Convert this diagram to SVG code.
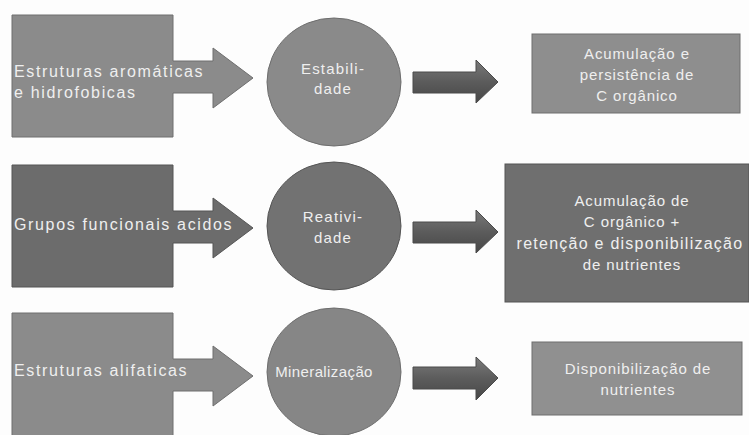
<svg xmlns="http://www.w3.org/2000/svg" width="749" height="435" viewBox="0 0 749 435">
<style>
  .t{font-family:"Liberation Sans",Arial,sans-serif;fill:#efefef}
  .lt{font-size:16px;letter-spacing:1.65px}
  .ct{font-size:15px;letter-spacing:1.2px;text-anchor:middle}
  .rt{font-size:15px;letter-spacing:0.9px;text-anchor:middle}
  .light{fill:#8b8b8b;stroke:#6e6e6e;stroke-width:1}
  .dark{fill:#6c6c6c;stroke:#555555;stroke-width:1}
  .arr{fill:url(#ag);stroke:#4a4a4a;stroke-width:1}
</style>
<defs>
  <linearGradient id="ag" x1="0" y1="0" x2="0" y2="1">
    <stop offset="0" stop-color="#7a7a7a"/>
    <stop offset="0.5" stop-color="#5c5c5c"/>
    <stop offset="1" stop-color="#474747"/>
  </linearGradient>
</defs>
<rect width="749" height="435" fill="#fdfdfd"/>

<g id="src1">
  <polygon class="light" points="12,15 173,15 173,61 213,61 213,48 253,78 213,108 213,93 173,93 173,137 12,137"/>
  <text class="t lt" x="14" y="77">Estruturas aromáticas</text>
  <text class="t lt" x="14" y="98">e hidrofobicas</text>
</g>
<g id="circ1">
  <ellipse class="light" cx="334" cy="82" rx="67" ry="64" style="fill:#8a8a8a"/>
  <text class="t ct" x="333" y="74">Estabili-</text>
  <text class="t ct" x="333" y="94">dade</text>
</g>
<g id="out1">
  <rect class="light" x="532" y="34" width="208" height="79" style="fill:#8e8e8e"/>
  <text class="t rt" x="637" y="59">Acumulação e</text>
  <text class="t rt" x="637" y="80">persistência de</text>
  <text class="t rt" x="637" y="101">C orgânico</text>
</g>

<g id="src2">
  <polygon class="dark" points="12,165 173,165 173,211 213,211 213,198 253,228 213,258 213,243 173,243 173,287 12,287"/>
  <text class="t lt" x="14" y="230">Grupos funcionais acidos</text>
</g>
<g id="circ2">
  <ellipse class="dark" cx="334" cy="226" rx="67" ry="64" style="fill:#727272"/>
  <text class="t ct" x="333" y="222">Reativi-</text>
  <text class="t ct" x="333" y="243">dade</text>
</g>
<g id="out2">
  <rect class="dark" x="505" y="164" width="244" height="138" style="fill:#6f6f6f"/>
  <text class="t rt" x="632" y="206">Acumulação de</text>
  <text class="t rt" x="632" y="227">C orgânico +</text>
  <text class="t rt" x="630" y="249" style="font-size:16px;letter-spacing:1.25px">retenção e disponibilização</text>
  <text class="t rt" x="632" y="270">de nutrientes</text>
</g>

<g id="src3">
  <polygon class="light" points="12,313 173,313 173,359 213,359 213,346 253,376 213,406 213,391 173,391 173,436 12,436"/>
  <text class="t lt" x="14" y="376">Estruturas alifaticas</text>
</g>
<g id="circ3">
  <ellipse class="light" cx="334" cy="372" rx="67" ry="64" style="fill:#868686"/>
  <text class="t ct" x="324" y="377" style="letter-spacing:0.4px">Mineralização</text>
</g>
<g id="out3">
  <rect class="light" x="532" y="342" width="210" height="73" style="fill:#909090"/>
  <text class="t rt" x="638" y="374">Disponibilização de</text>
  <text class="t rt" x="638" y="395">nutrientes</text>
</g>

<g id="connectors">
  <polygon class="arr" points="413,72 476,72 476,60 498,82 476,103 476,93 413,93"/>
  <polygon class="arr" points="413,222 476,222 476,210 498,232 476,253 476,243 413,243"/>
  <polygon class="arr" points="413,367 476,367 476,357 498,378 476,400 476,389 413,389"/>
</g>
</svg>
